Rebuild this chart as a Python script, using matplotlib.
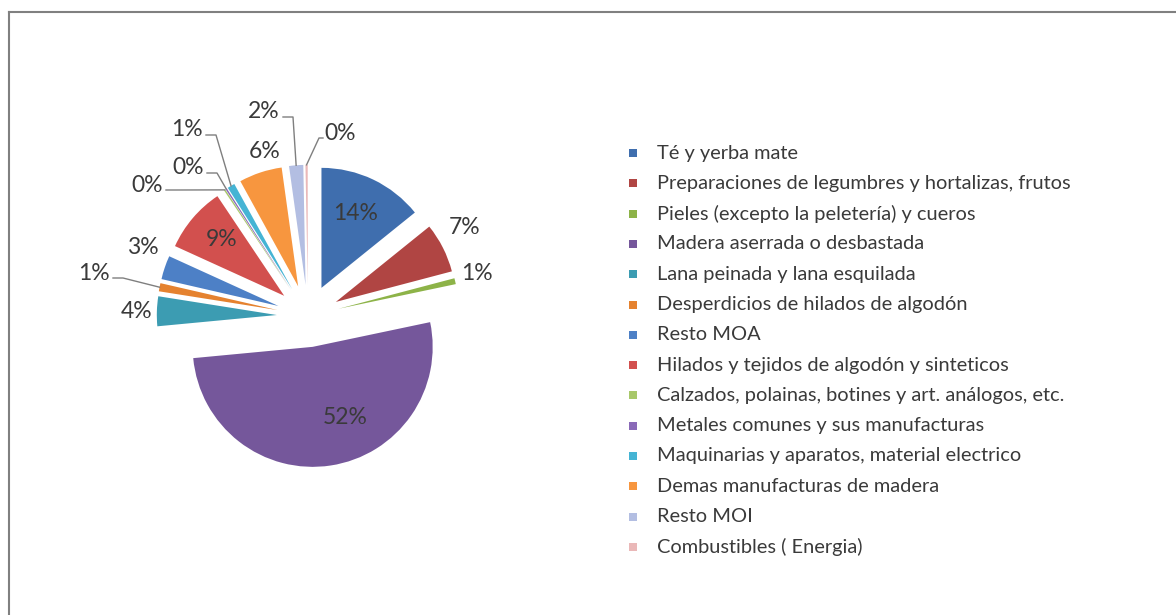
import matplotlib
matplotlib.use('Agg')
import matplotlib.pyplot as plt
import numpy as np
from matplotlib.lines import Line2D
from matplotlib.patches import Rectangle

# ---------------- data ----------------
categories = [
    "Té y yerba mate",
    "Preparaciones de legumbres y hortalizas, frutos",
    "Pieles (excepto la peletería) y cueros",
    "Madera aserrada o desbastada",
    "Lana peinada y lana esquilada",
    "Desperdicios de hilados de algodón",
    "Resto MOA",
    "Hilados y tejidos de algodón y sinteticos",
    "Calzados, polainas, botines y art. análogos, etc.",
    "Metales comunes y sus manufacturas",
    "Maquinarias y aparatos, material electrico",
    "Demas manufacturas de madera",
    "Resto MOI",
    "Combustibles ( Energia)",
]
values = [14.2, 6.7, 0.8, 51.8, 4.0, 1.1, 3.2, 8.8, 0.2, 0.2, 1.0, 5.8, 1.9, 0.3]

# ---------------- style / layout ----------------
colors = ['#3F6EAE', '#B04543', '#8DB348', '#75579B', '#3C9CB2', '#E5822F',
          '#4D80C6', '#D2504E', '#A8C86A', '#8A6AB8', '#45B4D4', '#F7963F',
          '#B3BEE2', '#EAB8B8']
W, H = 1176, 615
CX, CY, R = 308, 316, 120          # pie centre/radius in image pixels
EXPLODE = 0.26                      # fraction of radius
# label centres in image pixels (layout)
label_px = [(356, 213), (465, 228), (477, 273), (345, 417), (137, 312),
            (94, 273), (143, 248), (222, 240), (147, 185), (188, 168),
            (187, 130), (265, 152), (264, 112), (340, 133)]
leader = [False, False, False, False, False, True, False, False, True, True,
          True, False, True, True]
TXT = '#3A3A3A'
FONT = 'Lato'

fig = plt.figure(figsize=(W / 100, H / 100), dpi=100)
ax = fig.add_axes([0, 0, 1, 1])

wedges, _ = ax.pie(values, colors=colors, startangle=90, counterclock=False,
                   center=(CX, H - CY), radius=R,
                   explode=[EXPLODE * R] * len(values),
                   wedgeprops=dict(linewidth=0), normalize=True)
ax.set_xlim(0, W)
ax.set_ylim(0, H)
ax.set_aspect('equal')
ax.axis('off')

total = sum(values)
for i, w in enumerate(wedges):
    pct = values[i] / total * 100
    lx, ly = label_px[i][0], H - label_px[i][1]
    ax.text(lx, ly, f"{pct:.0f}%", ha='center', va='center',
            fontsize=16.5, color=TXT, family=FONT)
    if leader[i]:
        mid = np.deg2rad((w.theta1 + w.theta2) / 2)
        px = w.center[0] + w.r * np.cos(mid)
        py = w.center[1] + w.r * np.sin(mid)
        if px > lx + 10:
            sx = lx + 19
            xs = [sx, sx + 10, px]
        else:
            sx = lx - 17
            xs = [sx, sx - 4, px]
        ys = [ly - 5, ly - 5, py]
        ax.add_line(Line2D(xs, ys, color='#7F7F7F', lw=1.0))

# legend (manual)
leg_y0, leg_dy = 153, 30.3
for i, (cat, col) in enumerate(zip(categories, colors)):
    y = H - (leg_y0 + i * leg_dy)
    ax.add_patch(Rectangle((629, y - 4), 8, 8, facecolor=col, edgecolor='none'))
    ax.text(657, y, cat, ha='left', va='center', fontsize=14.4, color=TXT,
            family=FONT)

# chart-area border (left and top visible)
ax.add_line(Line2D([9, 9], [0, H - 12], color='#808080', lw=1.5))
ax.add_line(Line2D([9, W], [H - 12, H - 12], color='#808080', lw=1.5))

fig.savefig('out.png', dpi=100, facecolor='white')
